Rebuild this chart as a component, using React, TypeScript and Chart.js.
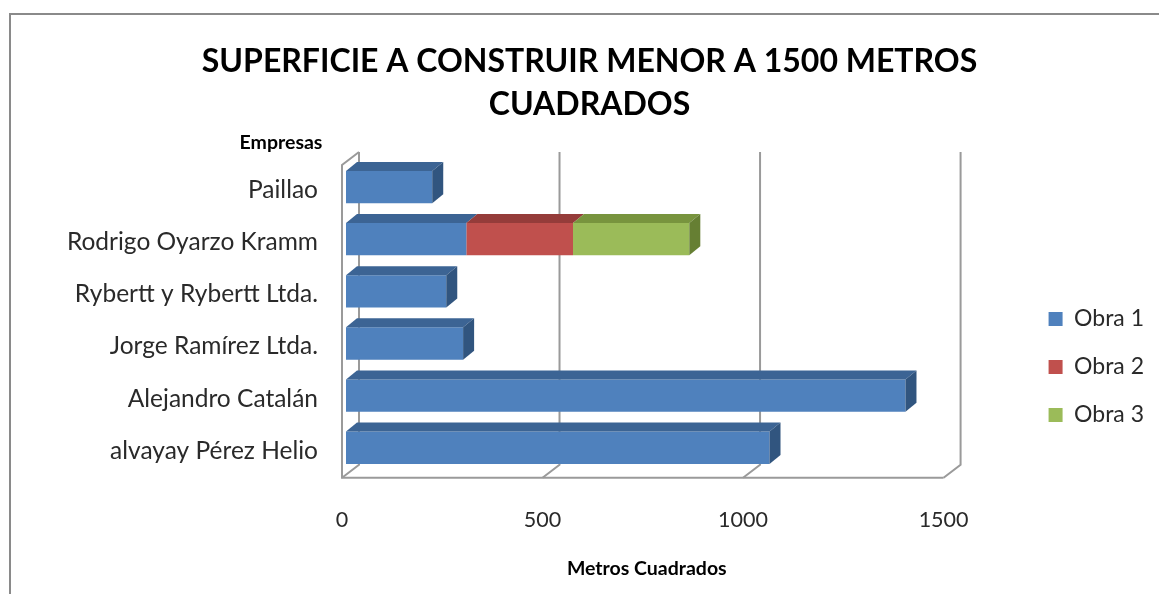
import React, { useEffect, useRef } from 'react';
import { Chart, registerables } from 'chart.js';

Chart.register(...registerables);

// ---- data ----
const categories = [
  'Paillao',
  'Rodrigo Oyarzo Kramm',
  'Rybertt y Rybertt Ltda.',
  'Jorge Ramírez Ltda.',
  'Alejandro Catalán',
  'alvayay Pérez Helio',
];
const seriesNames = ['Obra 1', 'Obra 2', 'Obra 3'];
const obra1 = [215, 300, 250, 292, 1395, 1056];
const obra2 = [null, 266, null, null, null, null];
const obra3 = [null, 290, null, null, null, null];
const xTicks = [0, 500, 1000, 1500];
const titleLines = ['SUPERFICIE A CONSTRUIR MENOR A 1500 METROS', 'CUADRADOS'];
const xAxisTitle = 'Metros Cuadrados';
const yAxisTitle = 'Empresas';

// ---- styles ----
const FONT = "Lato, 'Open Sans', 'DejaVu Sans', sans-serif";
const TEXT = '#2a2a2a';
const FRONT = ['#4F81BD', '#C0504D', '#9BBB59'];
const TOP = ['#3C6494', '#953C3A', '#78943E'];
const SIDE = ['#31557F', '#7E3230', '#667F33'];
const GRID = '#9a9a9a';
const FDX = -4, FDY = 4, BDX = 13, BDY = -9; // frame front / back offsets
const BAR_DX = 11, BAR_DY = -9; // bar depth

const depth3d = {
  id: 'depth3d',
  beforeDatasetsDraw(chart: any) {
    const { ctx, chartArea, scales } = chart;
    const xs = scales.x;
    const { top, bottom } = chartArea;
    ctx.save();
    ctx.strokeStyle = GRID;
    ctx.lineWidth = 2;
    xs.ticks.forEach((t: any) => {
      const x = xs.getPixelForValue(t.value);
      ctx.beginPath();
      ctx.moveTo(x + FDX, bottom + FDY);
      ctx.lineTo(x + BDX, bottom + BDY);
      ctx.lineTo(x + BDX, top + BDY);
      ctx.stroke();
    });
    const x0 = xs.getPixelForValue(xs.min);
    const x1 = xs.getPixelForValue(xs.max);
    ctx.beginPath();
    ctx.moveTo(x0 + BDX, top + BDY);
    ctx.lineTo(x0 + FDX, top + FDY);
    ctx.lineTo(x0 + FDX, bottom + FDY);
    ctx.lineTo(x1 + FDX, bottom + FDY);
    ctx.stroke();
    ctx.restore();
  },
  afterDatasetsDraw(chart: any) {
    const { ctx } = chart;
    const n = chart.data.labels.length;
    const poly = (pts: number[][]) => {
      ctx.beginPath();
      ctx.moveTo(pts[0][0], pts[0][1]);
      for (let k = 1; k < pts.length; k++) ctx.lineTo(pts[k][0], pts[k][1]);
      ctx.closePath();
      ctx.fill();
    };
    ctx.save();
    for (let i = 0; i < n; i++) {
      let last = -1;
      chart.data.datasets.forEach((ds: any, d: number) => {
        const v = ds.data[i];
        if (v != null && v > 0) last = d;
      });
      chart.data.datasets.forEach((ds: any, d: number) => {
        const v = ds.data[i];
        if (v == null || v <= 0) return;
        const el = chart.getDatasetMeta(d).data[i];
        const { x, y, base, height } = el.getProps(['x', 'y', 'base', 'height'], true);
        const l = Math.min(x, base);
        const r = Math.max(x, base);
        const t = y - height / 2;
        const b = y + height / 2;
        ctx.fillStyle = TOP[d];
        poly([[l, t], [r, t], [r + BAR_DX, t + BAR_DY], [l + BAR_DX, t + BAR_DY]]);
        if (d === last) {
          ctx.fillStyle = SIDE[d];
          poly([[r, t], [r + BAR_DX, t + BAR_DY], [r + BAR_DX, b + BAR_DY], [r, b]]);
        }
      });
    }
    ctx.restore();
  },
  afterDraw(chart: any) {
    const { ctx, chartArea } = chart;
    ctx.save();
    ctx.font = `bold 19.5px ${FONT}`;
    ctx.fillStyle = '#000';
    ctx.textAlign = 'center';
    ctx.textBaseline = 'middle';
    ctx.fillText(yAxisTitle, chartArea.left - 65, chartArea.top - 18);
    ctx.restore();
  },
};

export default function App() {
  const ref = useRef<HTMLCanvasElement>(null);
  useEffect(() => {
    const canvas = ref.current!;
    const series = [obra1, obra2, obra3];
    const chart = new Chart(canvas, {
      type: 'bar',
      data: {
        labels: categories,
        datasets: series.map((data, d) => ({
          label: seriesNames[d],
          data: data as any,
          backgroundColor: FRONT[d],
          borderWidth: 0,
          stack: 's',
          barPercentage: 0.62,
          categoryPercentage: 1,
        })),
      },
      options: {
        indexAxis: 'y',
        responsive: false,
        animation: false,
        layout: { padding: { left: 25, right: 5, top: 0, bottom: 14 } },
        scales: {
          x: {
            type: 'linear',
            stacked: true,
            min: 0,
            max: 1500,
            afterBuildTicks: (s: any) => {
              s.ticks = xTicks.map((v) => ({ value: v }));
            },
            grid: { display: false, drawTicks: false },
            border: { display: false },
            ticks: {
              font: { family: FONT, size: 21.5 },
              color: TEXT,
              padding: 33,
              labelOffset: -4,
              maxRotation: 0,
              callback: (v: any) => String(v),
            },
            title: {
              display: true,
              text: xAxisTitle,
              color: '#000',
              font: { family: FONT, size: 19.5, weight: 'bold' },
              padding: { top: -9, bottom: 0 },
            },
          },
          y: {
            type: 'category',
            stacked: true,
            grid: { display: false, drawTicks: false },
            border: { display: false },
            ticks: {
              font: { family: FONT, size: 24.5 },
              color: TEXT,
              padding: 28,
              labelOffset: 3,
            },
            afterFit: (s: any) => {
              s.width = 321;
            },
          },
          yr: {
            type: 'linear',
            axis: 'y',
            position: 'right',
            display: true,
            grid: { display: false, drawTicks: false },
            border: { display: false },
            ticks: { display: false },
            afterFit: (s: any) => {
              s.width = 76;
            },
          },
        } as any,
        plugins: {
          title: {
            display: true,
            text: titleLines,
            color: '#000',
            font: { family: FONT, size: 32, weight: 'bold', lineHeight: 43 / 32 },
            padding: { top: 40.5, bottom: 34.5 },
          },
          legend: {
            position: 'right',
            title: { display: true, text: '', font: { size: 10 }, padding: { top: 142, bottom: 0 } },
            labels: {
              boxWidth: 14,
              boxHeight: 14,
              padding: 25,
              color: TEXT,
              font: { family: FONT, size: 23 },
            },
          },
          tooltip: { enabled: false },
        },
      } as any,
      plugins: [depth3d],
    });
    return () => chart.destroy();
  }, []);

  return (
    <div style={{ position: 'fixed', left: 0, top: 0, width: 1159, height: 594, overflow: 'hidden', background: '#fff' }}>
      <div
        style={{
          position: 'absolute',
          left: 9,
          top: 13,
          width: 1300,
          height: 800,
          border: '2px solid #8a8a8a',
          boxSizing: 'border-box',
        }}
      />
      <canvas ref={ref} width={1159} height={594} style={{ position: 'absolute', left: 0, top: 0, width: 1159, height: 594 }} />
    </div>
  );
}
